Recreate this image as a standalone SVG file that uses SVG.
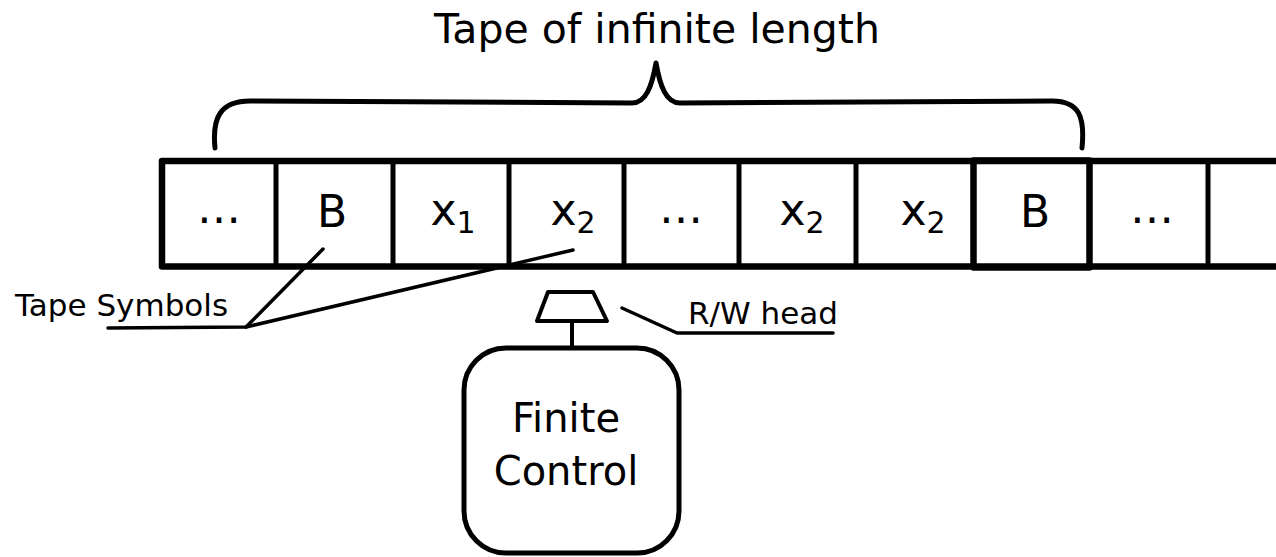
<svg xmlns="http://www.w3.org/2000/svg" width="1276" height="557" viewBox="0 0 1276 557">
  <style>
    text { font-family: "DejaVu Sans", "Liberation Sans", sans-serif; fill: #000; }
    .sym { font-size: 44px; text-anchor: middle; }
    .sub { font-size: 30px; }
    .tape { fill: none; stroke: #000; stroke-width: 6.5; stroke-linejoin: round; }
    .div { stroke: #000; stroke-width: 5; }
    .thin { fill: none; stroke: #000; stroke-width: 3.5; stroke-linecap: round; stroke-linejoin: round; }
  </style>
  <rect width="1276" height="557" fill="#fff"/>

  <!-- heading and brace over the tape -->
  <g id="tape-label">
    <text x="657" y="43" font-size="41" text-anchor="middle">Tape of infinite length</text>
    <path d="M215,148 C212,118 220,101 250,101 L632,103 C646,103 652,86 656,63 C660,86 666,103 680,103 L1052,101 C1080,101 1085,118 1082,148" fill="none" stroke="#000" stroke-width="5" stroke-linecap="round" stroke-linejoin="round"/>
  </g>

  <!-- the tape: open on the right -->
  <g id="tape">
    <path class="tape" d="M1280,161 H162 V266.5 H1280"/>
    <line class="div" x1="276" y1="161" x2="276" y2="266.5"/>
    <line class="div" x1="393" y1="161" x2="393" y2="266.5"/>
    <line class="div" x1="509" y1="161" x2="509" y2="266.5"/>
    <line class="div" x1="624" y1="161" x2="624" y2="266.5"/>
    <line class="div" x1="739" y1="161" x2="739" y2="266.5"/>
    <line class="div" x1="856" y1="161" x2="856" y2="266.5"/>
    <rect x="973.5" y="160.5" width="116" height="107" fill="none" stroke="#000" stroke-width="6.5" stroke-linejoin="round"/>
    <line class="div" x1="1208" y1="161" x2="1208" y2="266.5"/>

    <text class="sym" x="219" y="223">…</text>
    <text class="sym" x="332" y="227">B</text>
    <text class="sym" x="453" y="225">x<tspan class="sub" dy="8">1</tspan></text>
    <text class="sym" x="573" y="225">x<tspan class="sub" dy="8">2</tspan></text>
    <text class="sym" x="681" y="223">…</text>
    <text class="sym" x="802" y="225">x<tspan class="sub" dy="8">2</tspan></text>
    <text class="sym" x="923" y="225">x<tspan class="sub" dy="8">2</tspan></text>
    <text class="sym" x="1035" y="227">B</text>
    <text class="sym" x="1152" y="223">…</text>
  </g>

  <!-- read/write head on its stem -->
  <g id="rw-head">
    <path d="M548,292 H593 L607,321 H537 Z" fill="none" stroke="#000" stroke-width="4" stroke-linejoin="round"/>
    <line x1="572" y1="321" x2="572" y2="348" stroke="#000" stroke-width="4"/>
    <text x="688" y="324" font-size="31">R/W head</text>
  </g>

  <!-- finite control box -->
  <g id="finite-control">
    <rect x="464" y="348" width="215" height="205" rx="42" ry="42" fill="none" stroke="#000" stroke-width="5"/>
    <text x="566" y="432" font-size="40" text-anchor="middle">Finite</text>
    <text x="566" y="485" font-size="40" text-anchor="middle">Control</text>
  </g>

  <!-- callout lines -->
  <g id="connectors">
    <polyline class="thin" points="108,328 246,327 323,249"/>
    <line class="thin" x1="246" y1="327" x2="573" y2="250"/>
    <polyline class="thin" points="622,308 677,333 833,333"/>
  </g>

  <g id="tape-symbols-label">
    <text x="15" y="316" font-size="31">Tape Symbols</text>
  </g>
</svg>
